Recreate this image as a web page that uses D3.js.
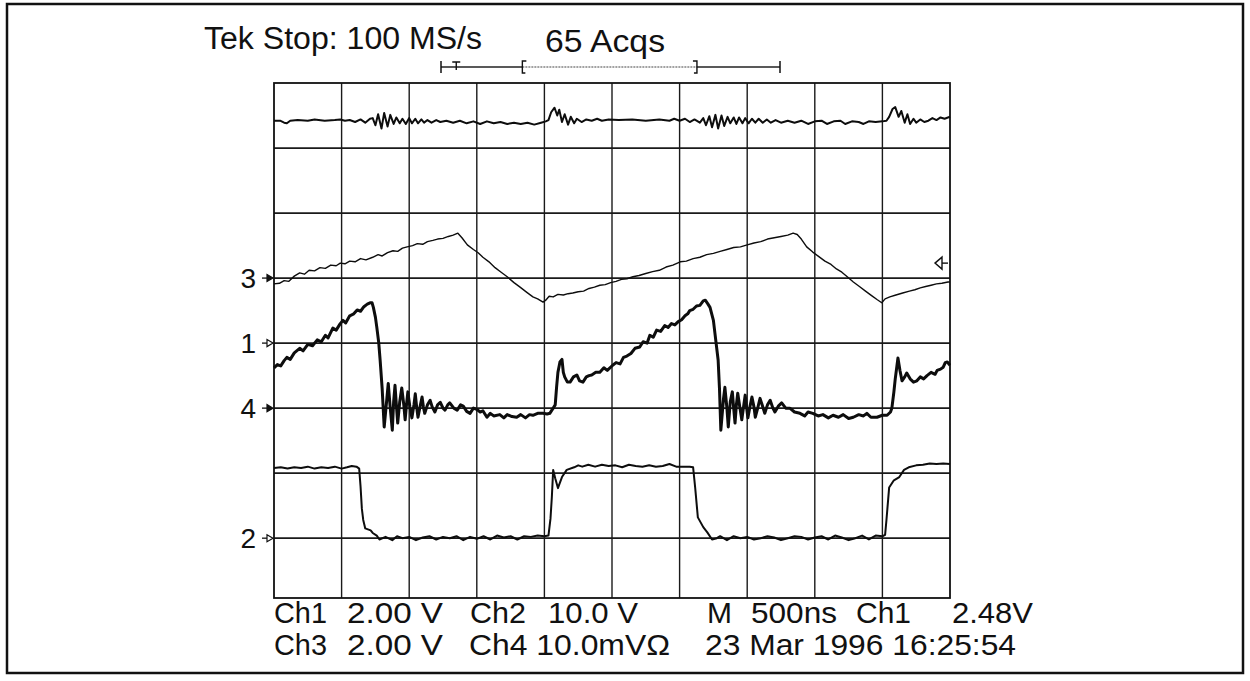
<!DOCTYPE html>
<html lang="en">
<head>
<meta charset="utf-8">
<title>Tek Stop: 100 MS/s</title>
<script src="https://d3js.org/d3.v7.min.js"></script>
<style>
  body { margin: 0; background: #fff; }
  svg text { font-family: "Liberation Sans", Arial, sans-serif; fill: #111; }
</style>
</head>
<body>
<svg id="scope" width="1250" height="681"></svg>
<script>
// time in divisions (500 ns/div), amplitude in screen divisions from the centre line

// top trace, small ringing
var traceTop = [[0,3.42],[0.09,3.42],[0.15,3.39],[0.19,3.38],[0.24,3.42],[0.35,3.43],[0.5,3.42],[0.6,3.44],[0.75,3.42],[0.9,3.43],[0.98,3.44],[1.05,3.42],[1.12,3.43],[1.2,3.4],[1.28,3.44],[1.35,3.39],[1.42,3.45],[1.46,3.46],[1.5,3.35],[1.54,3.52],[1.59,3.3],[1.63,3.54],[1.68,3.33],[1.72,3.51],[1.77,3.37],[1.81,3.47],[1.86,3.38],[1.9,3.45],[1.95,3.37],[2.0,3.46],[2.04,3.38],[2.09,3.45],[2.13,3.38],[2.18,3.44],[2.22,3.39],[2.27,3.43],[2.33,3.39],[2.4,3.43],[2.46,3.4],[2.55,3.42],[2.65,3.39],[2.75,3.42],[2.85,3.38],[2.95,3.41],[3.05,3.37],[3.15,3.41],[3.25,3.38],[3.35,3.4],[3.45,3.37],[3.55,3.39],[3.65,3.37],[3.75,3.39],[3.85,3.36],[3.95,3.39],[4.02,3.41],[4.06,3.43],[4.1,3.55],[4.15,3.62],[4.19,3.5],[4.22,3.59],[4.26,3.4],[4.3,3.52],[4.35,3.36],[4.39,3.48],[4.44,3.38],[4.48,3.45],[4.55,3.4],[4.62,3.44],[4.7,3.42],[4.78,3.45],[4.85,3.42],[4.95,3.44],[5.1,3.43],[5.3,3.44],[5.5,3.42],[5.7,3.44],[5.85,3.42],[5.92,3.45],[6.0,3.42],[6.08,3.45],[6.15,3.4],[6.22,3.44],[6.3,3.39],[6.35,3.46],[6.39,3.35],[6.44,3.49],[6.48,3.32],[6.53,3.51],[6.57,3.3],[6.62,3.5],[6.66,3.34],[6.71,3.48],[6.75,3.38],[6.8,3.47],[6.84,3.37],[6.88,3.47],[6.93,3.38],[6.97,3.46],[7.02,3.38],[7.07,3.45],[7.12,3.39],[7.17,3.45],[7.23,3.39],[7.29,3.44],[7.35,3.39],[7.42,3.43],[7.5,3.39],[7.6,3.42],[7.7,3.39],[7.8,3.42],[7.9,3.37],[8.0,3.41],[8.1,3.42],[8.18,3.37],[8.28,3.41],[8.38,3.42],[8.45,3.37],[8.55,3.41],[8.65,3.4],[8.72,3.37],[8.8,3.41],[8.9,3.4],[9.0,3.41],[9.06,3.42],[9.1,3.48],[9.15,3.6],[9.19,3.63],[9.24,3.48],[9.28,3.57],[9.33,3.39],[9.37,3.52],[9.41,3.37],[9.46,3.45],[9.5,3.39],[9.56,3.44],[9.62,3.4],[9.68,3.42],[9.74,3.46],[9.8,3.43],[9.86,3.47],[9.92,3.45],[10,3.48]];

// channel 3, triangle ramp
var traceRamp = [[0,0.91],[0.08,0.92],[0.15,0.96],[0.22,0.95],[0.3,1.03],[0.38,1.08],[0.45,1.06],[0.52,1.12],[0.6,1.11],[0.68,1.16],[0.76,1.15],[0.84,1.2],[0.92,1.19],[0.98,1.23],[1.05,1.22],[1.12,1.26],[1.2,1.25],[1.28,1.3],[1.36,1.28],[1.46,1.32],[1.54,1.36],[1.6,1.34],[1.68,1.39],[1.76,1.42],[1.83,1.41],[1.9,1.46],[1.97,1.48],[2.05,1.5],[2.12,1.53],[2.2,1.52],[2.27,1.56],[2.35,1.58],[2.42,1.6],[2.5,1.61],[2.58,1.64],[2.65,1.66],[2.72,1.69],[2.78,1.62],[2.86,1.51],[2.95,1.44],[3.02,1.39],[3.09,1.32],[3.18,1.25],[3.27,1.16],[3.36,1.09],[3.45,1.02],[3.55,0.93],[3.64,0.86],[3.74,0.78],[3.83,0.71],[3.9,0.68],[3.98,0.63],[4.02,0.66],[4.07,0.72],[4.13,0.71],[4.2,0.75],[4.28,0.74],[4.35,0.76],[4.42,0.77],[4.5,0.79],[4.58,0.8],[4.66,0.84],[4.74,0.86],[4.82,0.89],[4.9,0.9],[4.98,0.93],[5.06,0.95],[5.14,0.98],[5.22,0.99],[5.31,1.02],[5.4,1.04],[5.5,1.07],[5.6,1.1],[5.7,1.12],[5.8,1.17],[5.9,1.2],[6.01,1.25],[6.1,1.26],[6.2,1.3],[6.3,1.32],[6.4,1.36],[6.5,1.38],[6.6,1.41],[6.7,1.44],[6.8,1.47],[6.9,1.48],[7.0,1.51],[7.1,1.54],[7.2,1.56],[7.3,1.6],[7.4,1.62],[7.5,1.64],[7.6,1.66],[7.68,1.69],[7.74,1.67],[7.8,1.6],[7.88,1.48],[7.97,1.4],[8.06,1.33],[8.15,1.26],[8.24,1.21],[8.32,1.14],[8.4,1.09],[8.48,1.02],[8.57,0.94],[8.66,0.87],[8.75,0.8],[8.84,0.73],[8.92,0.67],[8.99,0.62],[9.04,0.68],[9.11,0.71],[9.2,0.74],[9.3,0.77],[9.4,0.8],[9.48,0.82],[9.56,0.85],[9.64,0.87],[9.72,0.89],[9.8,0.91],[9.88,0.92],[9.97,0.94],[10,0.94]];

// sawtooth with ringing after each fall
var traceSaw = [[0,-0.38],[0.05,-0.33],[0.1,-0.35],[0.15,-0.27],[0.19,-0.22],[0.24,-0.25],[0.3,-0.15],[0.38,-0.08],[0.43,-0.12],[0.5,-0.02],[0.57,-0.04],[0.64,0.05],[0.7,0.02],[0.76,0.12],[0.8,0.08],[0.87,0.23],[0.92,0.2],[0.98,0.3],[1.02,0.35],[1.06,0.31],[1.12,0.42],[1.18,0.45],[1.23,0.51],[1.28,0.49],[1.33,0.56],[1.38,0.6],[1.42,0.62],[1.45,0.62],[1.47,0.55],[1.5,0.4],[1.52,0.25],[1.55,0.0],[1.57,-0.26],[1.6,-0.7],[1.63,-1.29],[1.67,-0.85],[1.69,-0.62],[1.72,-1.0],[1.75,-1.34],[1.77,-0.9],[1.79,-0.65],[1.81,-0.95],[1.83,-1.23],[1.86,-0.9],[1.89,-0.69],[1.92,-0.95],[1.94,-1.18],[1.96,-0.95],[1.98,-0.75],[2.01,-0.98],[2.04,-1.15],[2.07,-0.95],[2.09,-0.78],[2.11,-0.98],[2.13,-1.14],[2.16,-0.98],[2.19,-0.83],[2.21,-0.98],[2.23,-1.08],[2.27,-0.95],[2.31,-0.88],[2.34,-0.98],[2.38,-1.06],[2.42,-0.95],[2.46,-0.91],[2.5,-1.0],[2.53,-1.03],[2.57,-0.95],[2.6,-0.92],[2.66,-1.0],[2.71,-1.03],[2.76,-0.95],[2.8,-0.97],[2.85,-1.05],[2.9,-1.08],[2.95,-1.0],[3.0,-1.02],[3.05,-1.06],[3.09,-1.04],[3.15,-1.14],[3.2,-1.08],[3.25,-1.12],[3.34,-1.1],[3.4,-1.15],[3.45,-1.1],[3.52,-1.13],[3.59,-1.14],[3.65,-1.1],[3.72,-1.15],[3.78,-1.1],[3.83,-1.11],[3.9,-1.08],[3.98,-1.08],[4.04,-1.09],[4.08,-1.08],[4.13,-1.0],[4.16,-0.95],[4.18,-0.68],[4.2,-0.45],[4.23,-0.29],[4.26,-0.25],[4.28,-0.45],[4.3,-0.52],[4.34,-0.6],[4.38,-0.6],[4.43,-0.52],[4.48,-0.49],[4.52,-0.58],[4.57,-0.6],[4.62,-0.52],[4.66,-0.5],[4.7,-0.49],[4.76,-0.45],[4.82,-0.45],[4.88,-0.38],[4.93,-0.42],[5.01,-0.34],[5.06,-0.3],[5.12,-0.32],[5.17,-0.22],[5.22,-0.2],[5.28,-0.16],[5.34,-0.08],[5.41,-0.06],[5.46,0.02],[5.52,0.0],[5.56,0.12],[5.61,0.09],[5.66,0.2],[5.72,0.18],[5.78,0.27],[5.83,0.24],[5.88,0.3],[5.93,0.28],[5.98,0.33],[6.03,0.36],[6.08,0.42],[6.12,0.45],[6.15,0.5],[6.2,0.52],[6.25,0.57],[6.3,0.58],[6.35,0.65],[6.38,0.66],[6.42,0.6],[6.45,0.55],[6.5,0.35],[6.54,0.0],[6.57,-0.26],[6.59,-0.7],[6.61,-1.34],[6.65,-0.85],[6.67,-0.68],[6.7,-1.0],[6.72,-1.29],[6.75,-0.9],[6.78,-0.75],[6.8,-1.0],[6.82,-1.23],[6.84,-0.95],[6.86,-0.77],[6.89,-0.98],[6.92,-1.18],[6.95,-0.95],[6.97,-0.8],[6.99,-0.98],[7.01,-1.15],[7.04,-0.98],[7.07,-0.83],[7.1,-0.98],[7.12,-1.14],[7.16,-0.98],[7.19,-0.85],[7.23,-0.98],[7.26,-1.08],[7.3,-0.95],[7.34,-0.88],[7.38,-1.0],[7.41,-1.06],[7.46,-0.97],[7.51,-0.92],[7.57,-1.0],[7.63,-1.0],[7.7,-1.06],[7.78,-1.08],[7.85,-1.12],[7.9,-1.06],[7.97,-1.08],[8.05,-1.12],[8.12,-1.1],[8.2,-1.15],[8.27,-1.11],[8.35,-1.14],[8.42,-1.1],[8.5,-1.16],[8.57,-1.14],[8.65,-1.1],[8.72,-1.12],[8.77,-1.08],[8.83,-1.14],[8.92,-1.14],[9.0,-1.11],[9.07,-1.11],[9.12,-1.06],[9.14,-1.0],[9.17,-0.75],[9.19,-0.55],[9.23,-0.23],[9.26,-0.42],[9.29,-0.58],[9.33,-0.52],[9.36,-0.46],[9.41,-0.55],[9.46,-0.6],[9.51,-0.58],[9.56,-0.52],[9.61,-0.55],[9.66,-0.5],[9.72,-0.45],[9.78,-0.48],[9.81,-0.42],[9.86,-0.4],[9.9,-0.37],[9.93,-0.3],[9.96,-0.29],[10,-0.34]];

// channel 2, switching square wave
var traceGate = [[0,-1.92],[0.1,-1.91],[0.2,-1.93],[0.3,-1.91],[0.4,-1.92],[0.5,-1.9],[0.6,-1.93],[0.7,-1.91],[0.8,-1.92],[0.9,-1.9],[1.0,-1.93],[1.08,-1.91],[1.15,-1.89],[1.22,-1.9],[1.26,-1.93],[1.28,-2.2],[1.3,-2.55],[1.32,-2.72],[1.35,-2.85],[1.43,-2.88],[1.46,-2.92],[1.52,-2.96],[1.56,-3.02],[1.65,-2.98],[1.75,-3.03],[1.82,-2.97],[1.9,-3.0],[2.0,-2.98],[2.1,-3.03],[2.2,-2.99],[2.3,-2.97],[2.4,-3.02],[2.5,-2.98],[2.6,-3.0],[2.7,-2.97],[2.8,-3.03],[2.9,-2.98],[3.0,-3.01],[3.1,-2.97],[3.2,-3.02],[3.3,-2.96],[3.4,-2.99],[3.5,-2.97],[3.6,-3.02],[3.7,-2.97],[3.8,-2.98],[3.9,-2.96],[4.0,-2.97],[4.06,-2.96],[4.09,-2.7],[4.11,-2.37],[4.13,-1.95],[4.16,-2.08],[4.2,-2.23],[4.26,-2.06],[4.33,-1.95],[4.44,-1.91],[4.5,-1.88],[4.56,-1.9],[4.65,-1.87],[4.75,-1.9],[4.85,-1.87],[4.95,-1.89],[5.05,-1.88],[5.15,-1.91],[5.25,-1.87],[5.35,-1.89],[5.45,-1.9],[5.55,-1.88],[5.65,-1.9],[5.75,-1.89],[5.85,-1.86],[5.95,-1.9],[6.05,-1.9],[6.15,-1.9],[6.2,-1.91],[6.23,-2.22],[6.27,-2.68],[6.35,-2.83],[6.41,-2.91],[6.48,-3.02],[6.55,-3.0],[6.6,-2.97],[6.7,-3.03],[6.8,-2.97],[6.9,-3.0],[7.0,-2.98],[7.1,-3.02],[7.2,-3.0],[7.3,-2.97],[7.4,-2.99],[7.5,-3.03],[7.6,-3.0],[7.7,-2.97],[7.8,-2.98],[7.9,-3.02],[8.0,-2.99],[8.1,-2.97],[8.2,-3.02],[8.3,-2.96],[8.4,-2.99],[8.5,-3.03],[8.6,-3.0],[8.7,-2.96],[8.8,-3.02],[8.9,-2.96],[9.0,-2.97],[9.04,-2.95],[9.06,-2.72],[9.1,-2.22],[9.17,-2.11],[9.25,-2.06],[9.32,-1.95],[9.39,-1.91],[9.5,-1.88],[9.6,-1.87],[9.7,-1.85],[9.8,-1.86],[9.9,-1.85],[10,-1.86]];

// channel ground markers on the left edge
var markerLabels = ["3", "1", "4", "2"];
var markerLevels = [1, 0, -1, -3];
var markerOpen = [false, true, false, true];

var triggerLevel = 1.23;

var headerText = ["Tek Stop: 100 MS/s", "65 Acqs"];
var readoutRow1 = ["Ch1", "2.00 V", "Ch2", "10.0 V", "M", "500ns", "Ch1", "2.48V"];
var readoutRow2 = ["Ch3", "2.00 V", "Ch4 10.0mV\u03A9", "23 Mar 1996 16:25:54"];

// ---------------------------------------------------------------

var svg = d3.select("#scope");

var x = d3.scaleLinear().domain([0, 10]).range([274, 950]);
var y = d3.scaleLinear().domain([-3.92, 4]).range([598, 83]);

// outer frame of the printout
svg.append("rect")
   .attr("x", 7).attr("y", 4)
   .attr("width", 1236).attr("height", 669)
   .attr("fill", "none")
   .attr("stroke", "#111")
   .attr("stroke-width", 2.5);

// graticule
var grid = svg.append("g");

grid.selectAll("line.v")
   .data(d3.range(1, 10))
   .enter().append("line")
   .attr("x1", function(d){ return x(d); })
   .attr("x2", function(d){ return x(d); })
   .attr("y1", y(4)).attr("y2", y(-3.92))
   .attr("stroke", "#1a1a1a")
   .attr("stroke-width", 1.4);

grid.selectAll("line.h")
   .data(d3.range(-3, 4))
   .enter().append("line")
   .attr("x1", x(0)).attr("x2", x(10))
   .attr("y1", function(d){ return y(d); })
   .attr("y2", function(d){ return y(d); })
   .attr("stroke", "#1a1a1a")
   .attr("stroke-width", 1.8);

grid.append("rect")
   .attr("x", x(0)).attr("y", y(4))
   .attr("width", x(10) - x(0))
   .attr("height", y(-3.92) - y(4))
   .attr("fill", "none")
   .attr("stroke", "#111")
   .attr("stroke-width", 1.8);

// traces
var line = d3.line()
   .x(function(d){ return x(d[0]); })
   .y(function(d){ return y(d[1]); });

var traces = [
   {data: traceTop, width: 2},
   {data: traceRamp, width: 1.4},
   {data: traceSaw, width: 3},
   {data: traceGate, width: 2}
];

svg.append("g")
   .selectAll("path")
   .data(traces)
   .enter().append("path")
   .attr("d", function(d){ return line(d.data); })
   .attr("fill", "none")
   .attr("stroke", "#0d0d0d")
   .attr("stroke-width", function(d){ return d.width; })
   .attr("stroke-linejoin", "round");

// ground markers: number, short stem and arrowhead
var mk = svg.append("g")
   .selectAll("g")
   .data(markerLabels)
   .enter().append("g")
   .attr("transform", function(d, i){ return "translate(" + x(0) + "," + y(markerLevels[i]) + ")"; });

mk.append("text")
   .attr("x", -18).attr("y", 10)
   .attr("text-anchor", "end")
   .attr("font-size", 28)
   .text(function(d){ return d; });

mk.append("line")
   .attr("x1", -12).attr("x2", -6)
   .attr("stroke", "#111").attr("stroke-width", 1.3);

mk.append("path")
   .attr("d", "M-7,-3.5L-1,0L-7,3.5Z")
   .attr("fill", function(d, i){ return markerOpen[i] ? "#fff" : "#111"; })
   .attr("stroke", "#111").attr("stroke-width", 1.2);

// trigger level marker on the right edge
var trig = svg.append("g")
   .attr("transform", "translate(" + x(10) + "," + y(triggerLevel) + ")");
trig.append("path")
   .attr("d", "M-8,-6L-15,0L-8,6Z")
   .attr("fill", "#fff").attr("stroke", "#111").attr("stroke-width", 1.4);
trig.append("line")
   .attr("x1", -8).attr("x2", -2)
   .attr("stroke", "#111").attr("stroke-width", 1.4);

// record bar at the top: trigger point and screen window within the record
var recX = d3.scaleLinear().domain([0, 1]).range([441, 780]);
var bar = svg.append("g").attr("transform", "translate(0,67)");
bar.append("line")
   .attr("x1", recX(0)).attr("x2", recX(0.24))
   .attr("stroke", "#222").attr("stroke-width", 1.3);
bar.append("line")
   .attr("x1", recX(0.24)).attr("x2", recX(0.755))
   .attr("stroke", "#444").attr("stroke-width", 1.1)
   .attr("stroke-dasharray", "2,1");
bar.append("line")
   .attr("x1", recX(0.755)).attr("x2", recX(1))
   .attr("stroke", "#222").attr("stroke-width", 1.3);
[0, 1].forEach(function(p){
   bar.append("line")
      .attr("x1", recX(p)).attr("x2", recX(p))
      .attr("y1", -6).attr("y2", 6)
      .attr("stroke", "#111").attr("stroke-width", 1.5);
});
// trigger "T"
bar.append("path")
   .attr("d", "M" + (recX(0.045) - 4) + ",-5H" + (recX(0.045) + 4) + "M" + recX(0.045) + ",-5V3")
   .attr("fill", "none").attr("stroke", "#111").attr("stroke-width", 1.4);
// window brackets
bar.append("path")
   .attr("d", "M" + (recX(0.24) + 4) + ",-6H" + recX(0.24) + "V6H" + (recX(0.24) + 3))
   .attr("fill", "none").attr("stroke", "#111").attr("stroke-width", 1.4);
bar.append("path")
   .attr("d", "M" + (recX(0.755) - 4) + ",-6H" + recX(0.755) + "V6H" + (recX(0.755) - 3))
   .attr("fill", "none").attr("stroke", "#111").attr("stroke-width", 1.4);

// header text
var headerX = [204, 545];
var headerY = [49, 52];
var headerW = [278, 120];
svg.selectAll("text.head")
   .data(headerText)
   .enter().append("text")
   .attr("class", "head")
   .attr("x", function(d, i){ return headerX[i]; })
   .attr("y", function(d, i){ return headerY[i]; })
   .attr("font-size", 31)
   .attr("textLength", function(d, i){ return headerW[i]; })
   .attr("lengthAdjust", "spacingAndGlyphs")
   .text(function(d){ return d; });

// readout under the graticule
var row1X = [274, 347, 470, 548, 707, 751, 856, 952];
var row1W = [53, 96, 56, 90, 25, 86, 55, 81];
var row2X = [274, 347, 469, 705];
var row2W = [53, 96, 201, 311];

svg.selectAll("text.r1")
   .data(readoutRow1)
   .enter().append("text")
   .attr("class", "r1")
   .attr("x", function(d, i){ return row1X[i]; })
   .attr("y", 623)
   .attr("font-size", 30)
   .attr("textLength", function(d, i){ return row1W[i]; })
   .attr("lengthAdjust", "spacingAndGlyphs")
   .text(function(d){ return d; });

svg.selectAll("text.r2")
   .data(readoutRow2)
   .enter().append("text")
   .attr("class", "r2")
   .attr("x", function(d, i){ return row2X[i]; })
   .attr("y", 655)
   .attr("font-size", 30)
   .attr("textLength", function(d, i){ return row2W[i]; })
   .attr("lengthAdjust", "spacingAndGlyphs")
   .text(function(d){ return d; });
</script>
</body>
</html>
